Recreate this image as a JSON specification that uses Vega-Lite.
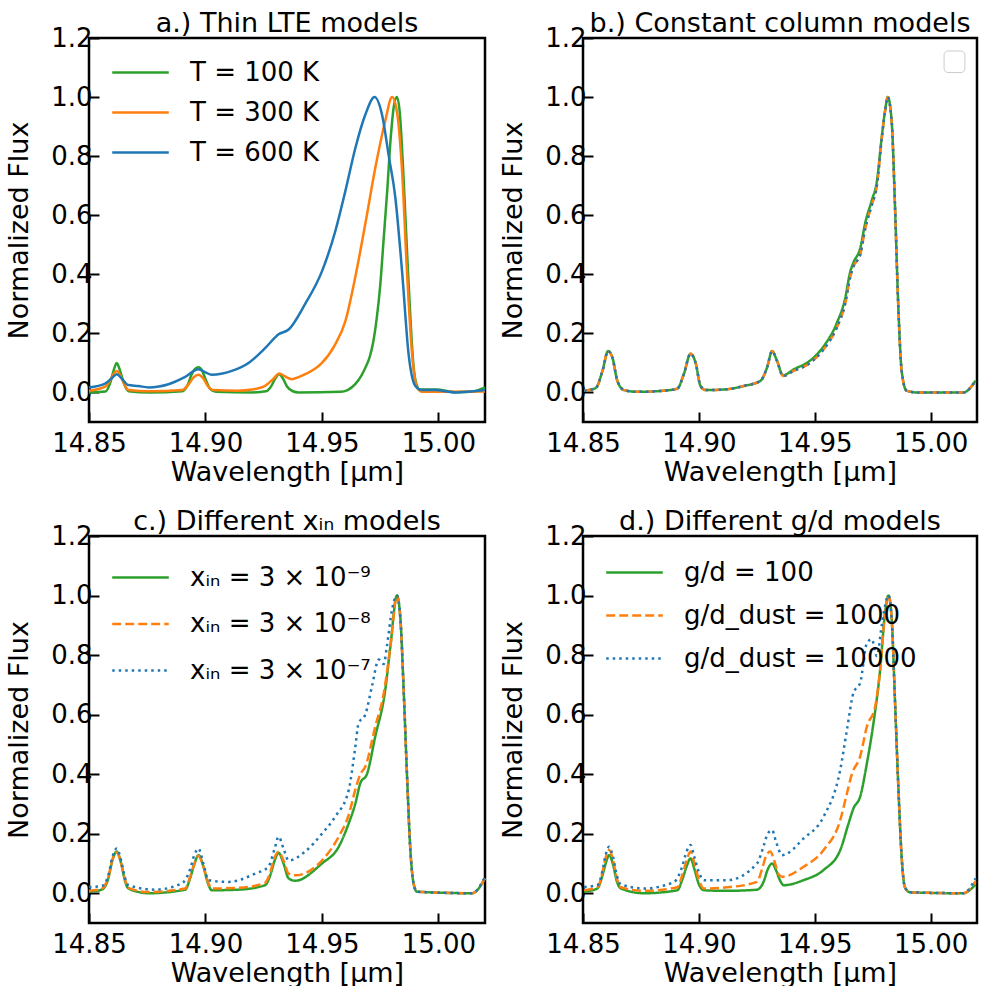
{
  "$schema": "https://vega.github.io/schema/vega-lite/v6.json",
  "background": "white",
  "padding": {"left": 4, "top": 8, "right": 5, "bottom": 0},
  "config": {
    "font": "DejaVu Sans",
    "view": {"stroke": "black", "strokeWidth": 2.5},
    "axis": {"domain": false, "grid": false, "tickSize": -10, "tickWidth": 2, "tickColor": "black", "labelFontSize": 26, "labelColor": "black", "titleFontSize": 27, "titleFontWeight": "normal", "titleColor": "black", "labelFont": "DejaVu Sans", "titleFont": "DejaVu Sans", "labelFlush": false, "labelOverlap": false},
    "axisX": {"labelPadding": 18, "titlePadding": 3},
    "axisY": {"labelPadding": 7, "titlePadding": 17},
    "title": {"fontSize": 27, "fontWeight": "normal", "font": "DejaVu Sans", "color": "black", "offset": -12.5, "baseline": "alphabetic"},
    "legend": {"labelFontSize": 26, "labelFont": "DejaVu Sans", "labelColor": "black", "symbolType": "M-2,0H2", "symbolSize": 800, "symbolStrokeWidth": 2.5, "labelOffset": 34, "padding": 0, "rowPadding": 14, "orient": "none", "labelLimit": 400},
    "line": {"strokeWidth": 2.5, "interpolate": "monotone"}
  },
  "datasets": {
    "a": [
      {"s":"T = 100 K","x":14.8500,"y":0.000},{"s":"T = 100 K","x":14.8570,"y":0.003},{"s":"T = 100 K","x":14.8590,"y":0.030},{"s":"T = 100 K","x":14.8605,"y":0.072},{"s":"T = 100 K","x":14.8619,"y":0.100},{"s":"T = 100 K","x":14.8634,"y":0.072},{"s":"T = 100 K","x":14.8650,"y":0.030},{"s":"T = 100 K","x":14.8670,"y":0.004},{"s":"T = 100 K","x":14.8760,"y":0.000},{"s":"T = 100 K","x":14.8900,"y":0.004},{"s":"T = 100 K","x":14.8925,"y":0.028},{"s":"T = 100 K","x":14.8940,"y":0.060},{"s":"T = 100 K","x":14.8955,"y":0.080},{"s":"T = 100 K","x":14.8970,"y":0.085},{"s":"T = 100 K","x":14.8985,"y":0.075},{"s":"T = 100 K","x":14.9000,"y":0.045},{"s":"T = 100 K","x":14.9020,"y":0.012},{"s":"T = 100 K","x":14.9045,"y":0.002},{"s":"T = 100 K","x":14.9200,"y":0.000},{"s":"T = 100 K","x":14.9260,"y":0.004},{"s":"T = 100 K","x":14.9285,"y":0.025},{"s":"T = 100 K","x":14.9300,"y":0.048},{"s":"T = 100 K","x":14.9317,"y":0.062},{"s":"T = 100 K","x":14.9332,"y":0.048},{"s":"T = 100 K","x":14.9350,"y":0.020},{"s":"T = 100 K","x":14.9375,"y":0.004},{"s":"T = 100 K","x":14.9400,"y":0.000},{"s":"T = 100 K","x":14.9580,"y":0.002},{"s":"T = 100 K","x":14.9610,"y":0.008},{"s":"T = 100 K","x":14.9643,"y":0.028},{"s":"T = 100 K","x":14.9670,"y":0.058},{"s":"T = 100 K","x":14.9690,"y":0.090},{"s":"T = 100 K","x":14.9705,"y":0.120},{"s":"T = 100 K","x":14.9720,"y":0.170},{"s":"T = 100 K","x":14.9735,"y":0.250},{"s":"T = 100 K","x":14.9750,"y":0.360},{"s":"T = 100 K","x":14.9765,"y":0.520},{"s":"T = 100 K","x":14.9780,"y":0.680},{"s":"T = 100 K","x":14.9795,"y":0.860},{"s":"T = 100 K","x":14.9810,"y":0.975},{"s":"T = 100 K","x":14.9822,"y":1.000},{"s":"T = 100 K","x":14.9835,"y":0.940},{"s":"T = 100 K","x":14.9847,"y":0.780},{"s":"T = 100 K","x":14.9858,"y":0.600},{"s":"T = 100 K","x":14.9870,"y":0.400},{"s":"T = 100 K","x":14.9882,"y":0.220},{"s":"T = 100 K","x":14.9893,"y":0.090},{"s":"T = 100 K","x":14.9905,"y":0.030},{"s":"T = 100 K","x":14.9920,"y":0.010},{"s":"T = 100 K","x":14.9990,"y":0.010},{"s":"T = 100 K","x":15.0070,"y":0.001},{"s":"T = 100 K","x":15.0140,"y":0.002},{"s":"T = 100 K","x":15.0200,"y":0.017},
      {"s":"T = 300 K","x":14.8500,"y":0.006},{"s":"T = 300 K","x":14.8570,"y":0.020},{"s":"T = 300 K","x":14.8590,"y":0.040},{"s":"T = 300 K","x":14.8605,"y":0.062},{"s":"T = 300 K","x":14.8619,"y":0.073},{"s":"T = 300 K","x":14.8634,"y":0.058},{"s":"T = 300 K","x":14.8650,"y":0.030},{"s":"T = 300 K","x":14.8670,"y":0.008},{"s":"T = 300 K","x":14.8760,"y":0.004},{"s":"T = 300 K","x":14.8900,"y":0.008},{"s":"T = 300 K","x":14.8930,"y":0.030},{"s":"T = 300 K","x":14.8950,"y":0.052},{"s":"T = 300 K","x":14.8970,"y":0.060},{"s":"T = 300 K","x":14.8990,"y":0.048},{"s":"T = 300 K","x":14.9010,"y":0.022},{"s":"T = 300 K","x":14.9034,"y":0.008},{"s":"T = 300 K","x":14.9140,"y":0.006},{"s":"T = 300 K","x":14.9200,"y":0.010},{"s":"T = 300 K","x":14.9256,"y":0.022},{"s":"T = 300 K","x":14.9290,"y":0.045},{"s":"T = 300 K","x":14.9317,"y":0.064},{"s":"T = 300 K","x":14.9340,"y":0.055},{"s":"T = 300 K","x":14.9371,"y":0.045},{"s":"T = 300 K","x":14.9400,"y":0.052},{"s":"T = 300 K","x":14.9428,"y":0.062},{"s":"T = 300 K","x":14.9470,"y":0.080},{"s":"T = 300 K","x":14.9500,"y":0.100},{"s":"T = 300 K","x":14.9557,"y":0.163},{"s":"T = 300 K","x":14.9600,"y":0.240},{"s":"T = 300 K","x":14.9643,"y":0.390},{"s":"T = 300 K","x":14.9686,"y":0.570},{"s":"T = 300 K","x":14.9729,"y":0.760},{"s":"T = 300 K","x":14.9772,"y":0.920},{"s":"T = 300 K","x":14.9801,"y":1.000},{"s":"T = 300 K","x":14.9822,"y":0.950},{"s":"T = 300 K","x":14.9844,"y":0.750},{"s":"T = 300 K","x":14.9865,"y":0.410},{"s":"T = 300 K","x":14.9887,"y":0.130},{"s":"T = 300 K","x":14.9908,"y":0.017},{"s":"T = 300 K","x":14.9930,"y":0.002},{"s":"T = 300 K","x":15.0200,"y":0.003},
      {"s":"T = 600 K","x":14.8500,"y":0.017},{"s":"T = 600 K","x":14.8569,"y":0.030},{"s":"T = 600 K","x":14.8600,"y":0.050},{"s":"T = 600 K","x":14.8619,"y":0.062},{"s":"T = 600 K","x":14.8640,"y":0.048},{"s":"T = 600 K","x":14.8669,"y":0.025},{"s":"T = 600 K","x":14.8712,"y":0.022},{"s":"T = 600 K","x":14.8755,"y":0.017},{"s":"T = 600 K","x":14.8800,"y":0.020},{"s":"T = 600 K","x":14.8841,"y":0.028},{"s":"T = 600 K","x":14.8913,"y":0.053},{"s":"T = 600 K","x":14.8970,"y":0.079},{"s":"T = 600 K","x":14.9000,"y":0.068},{"s":"T = 600 K","x":14.9027,"y":0.060},{"s":"T = 600 K","x":14.9113,"y":0.073},{"s":"T = 600 K","x":14.9185,"y":0.100},{"s":"T = 600 K","x":14.9256,"y":0.150},{"s":"T = 600 K","x":14.9314,"y":0.197},{"s":"T = 600 K","x":14.9357,"y":0.213},{"s":"T = 600 K","x":14.9428,"y":0.300},{"s":"T = 600 K","x":14.9500,"y":0.410},{"s":"T = 600 K","x":14.9557,"y":0.545},{"s":"T = 600 K","x":14.9600,"y":0.680},{"s":"T = 600 K","x":14.9643,"y":0.826},{"s":"T = 600 K","x":14.9686,"y":0.940},{"s":"T = 600 K","x":14.9726,"y":1.000},{"s":"T = 600 K","x":14.9758,"y":0.940},{"s":"T = 600 K","x":14.9787,"y":0.800},{"s":"T = 600 K","x":14.9815,"y":0.660},{"s":"T = 600 K","x":14.9844,"y":0.410},{"s":"T = 600 K","x":14.9872,"y":0.130},{"s":"T = 600 K","x":14.9901,"y":0.022},{"s":"T = 600 K","x":14.9930,"y":0.008},{"s":"T = 600 K","x":14.9987,"y":0.008},{"s":"T = 600 K","x":15.0073,"y":0.000},{"s":"T = 600 K","x":15.0200,"y":0.008}
    ],
    "b": [
      {"s":"g","x":14.8505,"y":0.006},{"s":"g","x":14.8555,"y":0.015},{"s":"g","x":14.8584,"y":0.073},{"s":"g","x":14.8608,"y":0.140},{"s":"g","x":14.8627,"y":0.118},{"s":"g","x":14.8648,"y":0.040},{"s":"g","x":14.8677,"y":0.008},{"s":"g","x":14.8735,"y":0.002},{"s":"g","x":14.8849,"y":0.006},{"s":"g","x":14.8907,"y":0.013},{"s":"g","x":14.8935,"y":0.062},{"s":"g","x":14.8964,"y":0.131},{"s":"g","x":14.8986,"y":0.100},{"s":"g","x":14.9007,"y":0.022},{"s":"g","x":14.9029,"y":0.008},{"s":"g","x":14.9122,"y":0.011},{"s":"g","x":14.9194,"y":0.022},{"s":"g","x":14.9265,"y":0.039},{"s":"g","x":14.9294,"y":0.084},{"s":"g","x":14.9316,"y":0.140},{"s":"g","x":14.9337,"y":0.107},{"s":"g","x":14.9363,"y":0.058},{"s":"g","x":14.9409,"y":0.078},{"s":"g","x":14.9480,"y":0.108},{"s":"g","x":14.9538,"y":0.156},{"s":"g","x":14.9595,"y":0.235},{"s":"g","x":14.9631,"y":0.318},{"s":"g","x":14.9653,"y":0.408},{"s":"g","x":14.9667,"y":0.440},{"s":"g","x":14.9696,"y":0.488},{"s":"g","x":14.9718,"y":0.575},{"s":"g","x":14.9746,"y":0.650},{"s":"g","x":14.9768,"y":0.715},{"s":"g","x":14.9789,"y":0.865},{"s":"g","x":14.9803,"y":0.952},{"s":"g","x":14.9815,"y":1.000},{"s":"g","x":14.9832,"y":0.916},{"s":"g","x":14.9846,"y":0.635},{"s":"g","x":14.9860,"y":0.300},{"s":"g","x":14.9875,"y":0.073},{"s":"g","x":14.9896,"y":0.006},{"s":"g","x":14.9940,"y":0.000},{"s":"g","x":15.0141,"y":0.000},{"s":"g","x":15.0194,"y":0.040},
      {"s":"o","x":14.8505,"y":0.006},{"s":"o","x":14.8555,"y":0.015},{"s":"o","x":14.8584,"y":0.073},{"s":"o","x":14.8608,"y":0.140},{"s":"o","x":14.8627,"y":0.118},{"s":"o","x":14.8648,"y":0.040},{"s":"o","x":14.8677,"y":0.008},{"s":"o","x":14.8735,"y":0.002},{"s":"o","x":14.8849,"y":0.006},{"s":"o","x":14.8907,"y":0.013},{"s":"o","x":14.8935,"y":0.062},{"s":"o","x":14.8964,"y":0.131},{"s":"o","x":14.8986,"y":0.100},{"s":"o","x":14.9007,"y":0.022},{"s":"o","x":14.9029,"y":0.008},{"s":"o","x":14.9122,"y":0.011},{"s":"o","x":14.9194,"y":0.022},{"s":"o","x":14.9265,"y":0.039},{"s":"o","x":14.9294,"y":0.084},{"s":"o","x":14.9316,"y":0.140},{"s":"o","x":14.9337,"y":0.107},{"s":"o","x":14.9363,"y":0.056},{"s":"o","x":14.9409,"y":0.073},{"s":"o","x":14.9480,"y":0.100},{"s":"o","x":14.9538,"y":0.146},{"s":"o","x":14.9595,"y":0.220},{"s":"o","x":14.9631,"y":0.300},{"s":"o","x":14.9653,"y":0.390},{"s":"o","x":14.9667,"y":0.427},{"s":"o","x":14.9696,"y":0.466},{"s":"o","x":14.9718,"y":0.556},{"s":"o","x":14.9746,"y":0.635},{"s":"o","x":14.9768,"y":0.700},{"s":"o","x":14.9789,"y":0.860},{"s":"o","x":14.9803,"y":0.950},{"s":"o","x":14.9815,"y":1.000},{"s":"o","x":14.9832,"y":0.916},{"s":"o","x":14.9846,"y":0.635},{"s":"o","x":14.9860,"y":0.300},{"s":"o","x":14.9875,"y":0.073},{"s":"o","x":14.9896,"y":0.006},{"s":"o","x":14.9940,"y":0.000},{"s":"o","x":15.0141,"y":0.000},{"s":"o","x":15.0194,"y":0.040},
      {"s":"b","x":14.8505,"y":0.006},{"s":"b","x":14.8555,"y":0.015},{"s":"b","x":14.8584,"y":0.073},{"s":"b","x":14.8608,"y":0.140},{"s":"b","x":14.8627,"y":0.118},{"s":"b","x":14.8648,"y":0.040},{"s":"b","x":14.8677,"y":0.008},{"s":"b","x":14.8735,"y":0.002},{"s":"b","x":14.8849,"y":0.006},{"s":"b","x":14.8907,"y":0.013},{"s":"b","x":14.8935,"y":0.062},{"s":"b","x":14.8964,"y":0.131},{"s":"b","x":14.8986,"y":0.100},{"s":"b","x":14.9007,"y":0.022},{"s":"b","x":14.9029,"y":0.008},{"s":"b","x":14.9122,"y":0.011},{"s":"b","x":14.9194,"y":0.022},{"s":"b","x":14.9265,"y":0.039},{"s":"b","x":14.9294,"y":0.084},{"s":"b","x":14.9316,"y":0.140},{"s":"b","x":14.9337,"y":0.107},{"s":"b","x":14.9363,"y":0.056},{"s":"b","x":14.9409,"y":0.073},{"s":"b","x":14.9480,"y":0.100},{"s":"b","x":14.9538,"y":0.146},{"s":"b","x":14.9595,"y":0.220},{"s":"b","x":14.9631,"y":0.300},{"s":"b","x":14.9653,"y":0.390},{"s":"b","x":14.9667,"y":0.427},{"s":"b","x":14.9696,"y":0.466},{"s":"b","x":14.9718,"y":0.556},{"s":"b","x":14.9746,"y":0.635},{"s":"b","x":14.9768,"y":0.700},{"s":"b","x":14.9789,"y":0.860},{"s":"b","x":14.9803,"y":0.950},{"s":"b","x":14.9815,"y":1.000},{"s":"b","x":14.9832,"y":0.916},{"s":"b","x":14.9846,"y":0.635},{"s":"b","x":14.9860,"y":0.300},{"s":"b","x":14.9875,"y":0.073},{"s":"b","x":14.9896,"y":0.006},{"s":"b","x":14.9940,"y":0.000},{"s":"b","x":15.0141,"y":0.000},{"s":"b","x":15.0194,"y":0.040}
    ],
    "c": [
      {"s":"xᵢₙ = 3 × 10⁻⁹","x":14.8500,"y":0.005},{"s":"xᵢₙ = 3 × 10⁻⁹","x":14.8554,"y":0.012},{"s":"xᵢₙ = 3 × 10⁻⁹","x":14.8583,"y":0.050},{"s":"xᵢₙ = 3 × 10⁻⁹","x":14.8600,"y":0.110},{"s":"xᵢₙ = 3 × 10⁻⁹","x":14.8619,"y":0.140},{"s":"xᵢₙ = 3 × 10⁻⁹","x":14.8638,"y":0.100},{"s":"xᵢₙ = 3 × 10⁻⁹","x":14.8655,"y":0.040},{"s":"xᵢₙ = 3 × 10⁻⁹","x":14.8669,"y":0.016},{"s":"xᵢₙ = 3 × 10⁻⁹","x":14.8755,"y":0.000},{"s":"xᵢₙ = 3 × 10⁻⁹","x":14.8913,"y":0.012},{"s":"xᵢₙ = 3 × 10⁻⁹","x":14.8934,"y":0.050},{"s":"xᵢₙ = 3 × 10⁻⁹","x":14.8953,"y":0.100},{"s":"xᵢₙ = 3 × 10⁻⁹","x":14.8970,"y":0.128},{"s":"xᵢₙ = 3 × 10⁻⁹","x":14.8991,"y":0.090},{"s":"xᵢₙ = 3 × 10⁻⁹","x":14.9010,"y":0.035},{"s":"xᵢₙ = 3 × 10⁻⁹","x":14.9027,"y":0.010},{"s":"xᵢₙ = 3 × 10⁻⁹","x":14.9142,"y":0.012},{"s":"xᵢₙ = 3 × 10⁻⁹","x":14.9256,"y":0.027},{"s":"xᵢₙ = 3 × 10⁻⁹","x":14.9278,"y":0.060},{"s":"xᵢₙ = 3 × 10⁻⁹","x":14.9297,"y":0.110},{"s":"xᵢₙ = 3 × 10⁻⁹","x":14.9314,"y":0.136},{"s":"xᵢₙ = 3 × 10⁻⁹","x":14.9335,"y":0.100},{"s":"xᵢₙ = 3 × 10⁻⁹","x":14.9357,"y":0.050},{"s":"xᵢₙ = 3 × 10⁻⁹","x":14.9385,"y":0.042},{"s":"xᵢₙ = 3 × 10⁻⁹","x":14.9500,"y":0.100},{"s":"xᵢₙ = 3 × 10⁻⁹","x":14.9572,"y":0.156},{"s":"xᵢₙ = 3 × 10⁻⁹","x":14.9615,"y":0.235},{"s":"xᵢₙ = 3 × 10⁻⁹","x":14.9643,"y":0.300},{"s":"xᵢₙ = 3 × 10⁻⁹","x":14.9665,"y":0.370},{"s":"xᵢₙ = 3 × 10⁻⁹","x":14.9693,"y":0.400},{"s":"xᵢₙ = 3 × 10⁻⁹","x":14.9729,"y":0.527},{"s":"xᵢₙ = 3 × 10⁻⁹","x":14.9772,"y":0.684},{"s":"xᵢₙ = 3 × 10⁻⁹","x":14.9794,"y":0.830},{"s":"xᵢₙ = 3 × 10⁻⁹","x":14.9822,"y":1.000},{"s":"xᵢₙ = 3 × 10⁻⁹","x":14.9837,"y":0.920},{"s":"xᵢₙ = 3 × 10⁻⁹","x":14.9851,"y":0.680},{"s":"xᵢₙ = 3 × 10⁻⁹","x":14.9865,"y":0.400},{"s":"xᵢₙ = 3 × 10⁻⁹","x":14.9880,"y":0.140},{"s":"xᵢₙ = 3 × 10⁻⁹","x":14.9894,"y":0.030},{"s":"xᵢₙ = 3 × 10⁻⁹","x":14.9908,"y":0.005},{"s":"xᵢₙ = 3 × 10⁻⁹","x":15.0145,"y":0.000},{"s":"xᵢₙ = 3 × 10⁻⁹","x":15.0200,"y":0.050},
      {"s":"xᵢₙ = 3 × 10⁻⁸","x":14.8500,"y":0.008},{"s":"xᵢₙ = 3 × 10⁻⁸","x":14.8554,"y":0.015},{"s":"xᵢₙ = 3 × 10⁻⁸","x":14.8583,"y":0.055},{"s":"xᵢₙ = 3 × 10⁻⁸","x":14.8600,"y":0.110},{"s":"xᵢₙ = 3 × 10⁻⁸","x":14.8619,"y":0.138},{"s":"xᵢₙ = 3 × 10⁻⁸","x":14.8638,"y":0.100},{"s":"xᵢₙ = 3 × 10⁻⁸","x":14.8655,"y":0.045},{"s":"xᵢₙ = 3 × 10⁻⁸","x":14.8669,"y":0.018},{"s":"xᵢₙ = 3 × 10⁻⁸","x":14.8755,"y":0.004},{"s":"xᵢₙ = 3 × 10⁻⁸","x":14.8913,"y":0.016},{"s":"xᵢₙ = 3 × 10⁻⁸","x":14.8934,"y":0.055},{"s":"xᵢₙ = 3 × 10⁻⁸","x":14.8953,"y":0.100},{"s":"xᵢₙ = 3 × 10⁻⁸","x":14.8970,"y":0.125},{"s":"xᵢₙ = 3 × 10⁻⁸","x":14.8991,"y":0.090},{"s":"xᵢₙ = 3 × 10⁻⁸","x":14.9010,"y":0.040},{"s":"xᵢₙ = 3 × 10⁻⁸","x":14.9027,"y":0.016},{"s":"xᵢₙ = 3 × 10⁻⁸","x":14.9142,"y":0.018},{"s":"xᵢₙ = 3 × 10⁻⁸","x":14.9256,"y":0.035},{"s":"xᵢₙ = 3 × 10⁻⁸","x":14.9278,"y":0.070},{"s":"xᵢₙ = 3 × 10⁻⁸","x":14.9297,"y":0.120},{"s":"xᵢₙ = 3 × 10⁻⁸","x":14.9314,"y":0.139},{"s":"xᵢₙ = 3 × 10⁻⁸","x":14.9335,"y":0.110},{"s":"xᵢₙ = 3 × 10⁻⁸","x":14.9357,"y":0.066},{"s":"xᵢₙ = 3 × 10⁻⁸","x":14.9385,"y":0.060},{"s":"xᵢₙ = 3 × 10⁻⁸","x":14.9500,"y":0.110},{"s":"xᵢₙ = 3 × 10⁻⁸","x":14.9572,"y":0.190},{"s":"xᵢₙ = 3 × 10⁻⁸","x":14.9615,"y":0.263},{"s":"xᵢₙ = 3 × 10⁻⁸","x":14.9643,"y":0.347},{"s":"xᵢₙ = 3 × 10⁻⁸","x":14.9665,"y":0.400},{"s":"xᵢₙ = 3 × 10⁻⁸","x":14.9686,"y":0.425},{"s":"xᵢₙ = 3 × 10⁻⁸","x":14.9729,"y":0.560},{"s":"xᵢₙ = 3 × 10⁻⁸","x":14.9765,"y":0.670},{"s":"xᵢₙ = 3 × 10⁻⁸","x":14.9794,"y":0.830},{"s":"xᵢₙ = 3 × 10⁻⁸","x":14.9822,"y":1.000},{"s":"xᵢₙ = 3 × 10⁻⁸","x":14.9837,"y":0.920},{"s":"xᵢₙ = 3 × 10⁻⁸","x":14.9851,"y":0.680},{"s":"xᵢₙ = 3 × 10⁻⁸","x":14.9865,"y":0.400},{"s":"xᵢₙ = 3 × 10⁻⁸","x":14.9880,"y":0.140},{"s":"xᵢₙ = 3 × 10⁻⁸","x":14.9894,"y":0.030},{"s":"xᵢₙ = 3 × 10⁻⁸","x":14.9908,"y":0.005},{"s":"xᵢₙ = 3 × 10⁻⁸","x":15.0145,"y":0.000},{"s":"xᵢₙ = 3 × 10⁻⁸","x":15.0200,"y":0.050},
      {"s":"xᵢₙ = 3 × 10⁻⁷","x":14.8500,"y":0.021},{"s":"xᵢₙ = 3 × 10⁻⁷","x":14.8554,"y":0.024},{"s":"xᵢₙ = 3 × 10⁻⁷","x":14.8583,"y":0.060},{"s":"xᵢₙ = 3 × 10⁻⁷","x":14.8600,"y":0.120},{"s":"xᵢₙ = 3 × 10⁻⁷","x":14.8619,"y":0.150},{"s":"xᵢₙ = 3 × 10⁻⁷","x":14.8638,"y":0.110},{"s":"xᵢₙ = 3 × 10⁻⁷","x":14.8655,"y":0.050},{"s":"xᵢₙ = 3 × 10⁻⁷","x":14.8669,"y":0.027},{"s":"xᵢₙ = 3 × 10⁻⁷","x":14.8784,"y":0.012},{"s":"xᵢₙ = 3 × 10⁻⁷","x":14.8898,"y":0.033},{"s":"xᵢₙ = 3 × 10⁻⁷","x":14.8934,"y":0.080},{"s":"xᵢₙ = 3 × 10⁻⁷","x":14.8953,"y":0.130},{"s":"xᵢₙ = 3 × 10⁻⁷","x":14.8970,"y":0.150},{"s":"xᵢₙ = 3 × 10⁻⁷","x":14.8991,"y":0.100},{"s":"xᵢₙ = 3 × 10⁻⁷","x":14.9013,"y":0.044},{"s":"xᵢₙ = 3 × 10⁻⁷","x":14.9099,"y":0.038},{"s":"xᵢₙ = 3 × 10⁻⁷","x":14.9213,"y":0.066},{"s":"xᵢₙ = 3 × 10⁻⁷","x":14.9270,"y":0.089},{"s":"xᵢₙ = 3 × 10⁻⁷","x":14.9297,"y":0.150},{"s":"xᵢₙ = 3 × 10⁻⁷","x":14.9314,"y":0.190},{"s":"xᵢₙ = 3 × 10⁻⁷","x":14.9335,"y":0.150},{"s":"xᵢₙ = 3 × 10⁻⁷","x":14.9357,"y":0.110},{"s":"xᵢₙ = 3 × 10⁻⁷","x":14.9428,"y":0.140},{"s":"xᵢₙ = 3 × 10⁻⁷","x":14.9500,"y":0.200},{"s":"xᵢₙ = 3 × 10⁻⁷","x":14.9557,"y":0.257},{"s":"xᵢₙ = 3 × 10⁻⁷","x":14.9615,"y":0.347},{"s":"xᵢₙ = 3 × 10⁻⁷","x":14.9643,"y":0.490},{"s":"xᵢₙ = 3 × 10⁻⁷","x":14.9657,"y":0.570},{"s":"xᵢₙ = 3 × 10⁻⁷","x":14.9686,"y":0.600},{"s":"xᵢₙ = 3 × 10⁻⁷","x":14.9715,"y":0.696},{"s":"xᵢₙ = 3 × 10⁻⁷","x":14.9744,"y":0.785},{"s":"xᵢₙ = 3 × 10⁻⁷","x":14.9765,"y":0.770},{"s":"xᵢₙ = 3 × 10⁻⁷","x":14.9779,"y":0.830},{"s":"xᵢₙ = 3 × 10⁻⁷","x":14.9801,"y":0.953},{"s":"xᵢₙ = 3 × 10⁻⁷","x":14.9822,"y":1.000},{"s":"xᵢₙ = 3 × 10⁻⁷","x":14.9837,"y":0.920},{"s":"xᵢₙ = 3 × 10⁻⁷","x":14.9851,"y":0.680},{"s":"xᵢₙ = 3 × 10⁻⁷","x":14.9865,"y":0.400},{"s":"xᵢₙ = 3 × 10⁻⁷","x":14.9880,"y":0.140},{"s":"xᵢₙ = 3 × 10⁻⁷","x":14.9894,"y":0.030},{"s":"xᵢₙ = 3 × 10⁻⁷","x":14.9908,"y":0.005},{"s":"xᵢₙ = 3 × 10⁻⁷","x":15.0145,"y":0.000},{"s":"xᵢₙ = 3 × 10⁻⁷","x":15.0200,"y":0.055}
    ],
    "d": [
      {"s":"g/d = 100","x":14.8505,"y":0.005},{"s":"g/d = 100","x":14.8562,"y":0.016},{"s":"g/d = 100","x":14.8584,"y":0.060},{"s":"g/d = 100","x":14.8598,"y":0.100},{"s":"g/d = 100","x":14.8613,"y":0.128},{"s":"g/d = 100","x":14.8630,"y":0.095},{"s":"g/d = 100","x":14.8646,"y":0.040},{"s":"g/d = 100","x":14.8663,"y":0.016},{"s":"g/d = 100","x":14.8763,"y":0.000},{"s":"g/d = 100","x":14.8907,"y":0.010},{"s":"g/d = 100","x":14.8928,"y":0.045},{"s":"g/d = 100","x":14.8947,"y":0.090},{"s":"g/d = 100","x":14.8964,"y":0.117},{"s":"g/d = 100","x":14.8981,"y":0.080},{"s":"g/d = 100","x":14.9000,"y":0.030},{"s":"g/d = 100","x":14.9022,"y":0.010},{"s":"g/d = 100","x":14.9122,"y":0.008},{"s":"g/d = 100","x":14.9251,"y":0.012},{"s":"g/d = 100","x":14.9280,"y":0.040},{"s":"g/d = 100","x":14.9297,"y":0.080},{"s":"g/d = 100","x":14.9316,"y":0.100},{"s":"g/d = 100","x":14.9334,"y":0.075},{"s":"g/d = 100","x":14.9352,"y":0.040},{"s":"g/d = 100","x":14.9366,"y":0.027},{"s":"g/d = 100","x":14.9452,"y":0.044},{"s":"g/d = 100","x":14.9538,"y":0.078},{"s":"g/d = 100","x":14.9610,"y":0.145},{"s":"g/d = 100","x":14.9646,"y":0.235},{"s":"g/d = 100","x":14.9667,"y":0.285},{"s":"g/d = 100","x":14.9696,"y":0.325},{"s":"g/d = 100","x":14.9725,"y":0.437},{"s":"g/d = 100","x":14.9753,"y":0.570},{"s":"g/d = 100","x":14.9782,"y":0.750},{"s":"g/d = 100","x":14.9803,"y":0.940},{"s":"g/d = 100","x":14.9818,"y":1.000},{"s":"g/d = 100","x":14.9832,"y":0.920},{"s":"g/d = 100","x":14.9846,"y":0.650},{"s":"g/d = 100","x":14.9861,"y":0.350},{"s":"g/d = 100","x":14.9875,"y":0.120},{"s":"g/d = 100","x":14.9889,"y":0.020},{"s":"g/d = 100","x":14.9911,"y":0.003},{"s":"g/d = 100","x":15.0141,"y":0.000},{"s":"g/d = 100","x":15.0194,"y":0.030},
      {"s":"g/d_dust = 1000","x":14.8505,"y":0.010},{"s":"g/d_dust = 1000","x":14.8562,"y":0.020},{"s":"g/d_dust = 1000","x":14.8584,"y":0.070},{"s":"g/d_dust = 1000","x":14.8598,"y":0.120},{"s":"g/d_dust = 1000","x":14.8613,"y":0.145},{"s":"g/d_dust = 1000","x":14.8630,"y":0.110},{"s":"g/d_dust = 1000","x":14.8646,"y":0.050},{"s":"g/d_dust = 1000","x":14.8663,"y":0.020},{"s":"g/d_dust = 1000","x":14.8763,"y":0.008},{"s":"g/d_dust = 1000","x":14.8907,"y":0.020},{"s":"g/d_dust = 1000","x":14.8928,"y":0.060},{"s":"g/d_dust = 1000","x":14.8947,"y":0.110},{"s":"g/d_dust = 1000","x":14.8964,"y":0.140},{"s":"g/d_dust = 1000","x":14.8981,"y":0.100},{"s":"g/d_dust = 1000","x":14.9000,"y":0.045},{"s":"g/d_dust = 1000","x":14.9022,"y":0.016},{"s":"g/d_dust = 1000","x":14.9122,"y":0.020},{"s":"g/d_dust = 1000","x":14.9251,"y":0.038},{"s":"g/d_dust = 1000","x":14.9272,"y":0.080},{"s":"g/d_dust = 1000","x":14.9290,"y":0.125},{"s":"g/d_dust = 1000","x":14.9308,"y":0.140},{"s":"g/d_dust = 1000","x":14.9325,"y":0.110},{"s":"g/d_dust = 1000","x":14.9343,"y":0.065},{"s":"g/d_dust = 1000","x":14.9359,"y":0.055},{"s":"g/d_dust = 1000","x":14.9452,"y":0.089},{"s":"g/d_dust = 1000","x":14.9538,"y":0.145},{"s":"g/d_dust = 1000","x":14.9610,"y":0.246},{"s":"g/d_dust = 1000","x":14.9639,"y":0.336},{"s":"g/d_dust = 1000","x":14.9660,"y":0.400},{"s":"g/d_dust = 1000","x":14.9696,"y":0.460},{"s":"g/d_dust = 1000","x":14.9725,"y":0.560},{"s":"g/d_dust = 1000","x":14.9761,"y":0.628},{"s":"g/d_dust = 1000","x":14.9782,"y":0.750},{"s":"g/d_dust = 1000","x":14.9803,"y":0.940},{"s":"g/d_dust = 1000","x":14.9818,"y":1.000},{"s":"g/d_dust = 1000","x":14.9832,"y":0.920},{"s":"g/d_dust = 1000","x":14.9846,"y":0.650},{"s":"g/d_dust = 1000","x":14.9861,"y":0.350},{"s":"g/d_dust = 1000","x":14.9875,"y":0.120},{"s":"g/d_dust = 1000","x":14.9889,"y":0.020},{"s":"g/d_dust = 1000","x":14.9911,"y":0.003},{"s":"g/d_dust = 1000","x":15.0141,"y":0.000},{"s":"g/d_dust = 1000","x":15.0194,"y":0.040},
      {"s":"g/d_dust = 10000","x":14.8505,"y":0.021},{"s":"g/d_dust = 10000","x":14.8562,"y":0.027},{"s":"g/d_dust = 10000","x":14.8584,"y":0.075},{"s":"g/d_dust = 10000","x":14.8598,"y":0.130},{"s":"g/d_dust = 10000","x":14.8613,"y":0.156},{"s":"g/d_dust = 10000","x":14.8630,"y":0.120},{"s":"g/d_dust = 10000","x":14.8646,"y":0.060},{"s":"g/d_dust = 10000","x":14.8663,"y":0.030},{"s":"g/d_dust = 10000","x":14.8763,"y":0.016},{"s":"g/d_dust = 10000","x":14.8893,"y":0.038},{"s":"g/d_dust = 10000","x":14.8928,"y":0.090},{"s":"g/d_dust = 10000","x":14.8947,"y":0.140},{"s":"g/d_dust = 10000","x":14.8964,"y":0.162},{"s":"g/d_dust = 10000","x":14.8981,"y":0.120},{"s":"g/d_dust = 10000","x":14.9000,"y":0.070},{"s":"g/d_dust = 10000","x":14.9022,"y":0.044},{"s":"g/d_dust = 10000","x":14.9122,"y":0.044},{"s":"g/d_dust = 10000","x":14.9251,"y":0.100},{"s":"g/d_dust = 10000","x":14.9280,"y":0.160},{"s":"g/d_dust = 10000","x":14.9297,"y":0.200},{"s":"g/d_dust = 10000","x":14.9316,"y":0.212},{"s":"g/d_dust = 10000","x":14.9334,"y":0.170},{"s":"g/d_dust = 10000","x":14.9359,"y":0.128},{"s":"g/d_dust = 10000","x":14.9452,"y":0.184},{"s":"g/d_dust = 10000","x":14.9538,"y":0.257},{"s":"g/d_dust = 10000","x":14.9610,"y":0.415},{"s":"g/d_dust = 10000","x":14.9639,"y":0.550},{"s":"g/d_dust = 10000","x":14.9667,"y":0.673},{"s":"g/d_dust = 10000","x":14.9696,"y":0.707},{"s":"g/d_dust = 10000","x":14.9725,"y":0.840},{"s":"g/d_dust = 10000","x":14.9746,"y":0.853},{"s":"g/d_dust = 10000","x":14.9768,"y":0.797},{"s":"g/d_dust = 10000","x":14.9789,"y":0.900},{"s":"g/d_dust = 10000","x":14.9803,"y":0.964},{"s":"g/d_dust = 10000","x":14.9818,"y":1.000},{"s":"g/d_dust = 10000","x":14.9832,"y":0.920},{"s":"g/d_dust = 10000","x":14.9846,"y":0.650},{"s":"g/d_dust = 10000","x":14.9861,"y":0.350},{"s":"g/d_dust = 10000","x":14.9875,"y":0.120},{"s":"g/d_dust = 10000","x":14.9889,"y":0.020},{"s":"g/d_dust = 10000","x":14.9911,"y":0.003},{"s":"g/d_dust = 10000","x":15.0141,"y":0.000},{"s":"g/d_dust = 10000","x":15.0194,"y":0.050}
    ]
  },
  "resolve": {"scale": {"color": "independent", "strokeDash": "independent"}, "legend": {"color": "independent", "strokeDash": "independent"}},
  "spacing": 19,
  "vconcat": [
    {
      "spacing": 6,
      "resolve": {"scale": {"color": "independent", "strokeDash": "independent"}, "legend": {"color": "independent", "strokeDash": "independent"}},
      "hconcat": [
        {
          "title": "a.) Thin LTE models",
          "width": 396, "height": 384,
          "data": {"name": "a"},
          "mark": {"type": "line"},
          "encoding": {
            "x": {"field": "x", "type": "quantitative", "title": "Wavelength [μm]", "scale": {"domain": [14.85, 15.02], "nice": false, "zero": false}, "axis": {"values": [14.85, 14.9, 14.95, 15.0], "format": ".2f"}},
            "y": {"field": "y", "type": "quantitative", "title": "Normalized Flux", "scale": {"domain": [-0.1, 1.2], "nice": false, "zero": false}, "axis": {"values": [0, 0.2, 0.4, 0.6, 0.8, 1.0, 1.2], "format": ".1f"}},
            "color": {"field": "s", "type": "nominal", "scale": {"domain": ["T = 100 K", "T = 300 K", "T = 600 K"], "range": ["#2ca02c", "#ff7f0e", "#1f77b4"]}, "legend": {"title": null, "legendX": 36, "legendY": 19, "rowPadding": 11}}
          }
        },
        {
          "title": "b.) Constant column models",
          "width": 394, "height": 384,
          "layer": [
            {
              "data": {"name": "b"},
              "mark": {"type": "line"},
              "encoding": {
                "x": {"field": "x", "type": "quantitative", "title": "Wavelength [μm]", "scale": {"domain": [14.85, 15.02], "nice": false, "zero": false}, "axis": {"values": [14.85, 14.9, 14.95, 15.0], "format": ".2f"}},
                "y": {"field": "y", "type": "quantitative", "title": "Normalized Flux", "scale": {"domain": [-0.1, 1.2], "nice": false, "zero": false}, "axis": {"values": [0, 0.2, 0.4, 0.6, 0.8, 1.0, 1.2], "format": ".1f"}},
                "color": {"field": "s", "type": "nominal", "scale": {"domain": ["g", "o", "b"], "range": ["#2ca02c", "#ff7f0e", "#1f77b4"]}, "legend": null},
                "strokeDash": {"field": "s", "type": "nominal", "scale": {"domain": ["g", "o", "b"], "range": [[1, 0], [9, 4], [2.5, 4]]}, "legend": null}
              }
            },
            {
              "data": {"values": [{}]},
              "mark": {"type": "rect", "fill": "white", "stroke": "#cccccc", "strokeWidth": 1, "cornerRadius": 4},
              "encoding": {
                "x": {"datum": 15.0058, "type": "quantitative"},
                "x2": {"datum": 15.0148},
                "y": {"datum": 1.156, "type": "quantitative"},
                "y2": {"datum": 1.083}
              }
            }
          ]
        }
      ]
    },
    {
      "spacing": 6,
      "resolve": {"scale": {"color": "independent", "strokeDash": "independent"}, "legend": {"color": "independent", "strokeDash": "independent"}},
      "hconcat": [
        {
          "title": "c.) Different xᵢₙ models",
          "width": 396, "height": 387,
          "data": {"name": "c"},
          "mark": {"type": "line"},
          "encoding": {
            "x": {"field": "x", "type": "quantitative", "title": "Wavelength [μm]", "scale": {"domain": [14.85, 15.02], "nice": false, "zero": false}, "axis": {"values": [14.85, 14.9, 14.95, 15.0], "format": ".2f"}},
            "y": {"field": "y", "type": "quantitative", "title": "Normalized Flux", "scale": {"domain": [-0.1, 1.2], "nice": false, "zero": false}, "axis": {"values": [0, 0.2, 0.4, 0.6, 0.8, 1.0, 1.2], "format": ".1f"}},
            "color": {"field": "s", "type": "nominal", "scale": {"domain": ["xᵢₙ = 3 × 10⁻⁹", "xᵢₙ = 3 × 10⁻⁸", "xᵢₙ = 3 × 10⁻⁷"], "range": ["#2ca02c", "#ff7f0e", "#1f77b4"]}, "legend": {"title": null, "legendX": 36, "legendY": 26, "rowPadding": 17.5}},
            "strokeDash": {"field": "s", "type": "nominal", "scale": {"domain": ["xᵢₙ = 3 × 10⁻⁹", "xᵢₙ = 3 × 10⁻⁸", "xᵢₙ = 3 × 10⁻⁷"], "range": [[1, 0], [9, 4], [2.5, 4]]}, "legend": {"title": null, "legendX": 36, "legendY": 26, "rowPadding": 17.5}}
          }
        },
        {
          "title": "d.) Different g/d models",
          "width": 394, "height": 387,
          "data": {"name": "d"},
          "mark": {"type": "line"},
          "encoding": {
            "x": {"field": "x", "type": "quantitative", "title": "Wavelength [μm]", "scale": {"domain": [14.85, 15.02], "nice": false, "zero": false}, "axis": {"values": [14.85, 14.9, 14.95, 15.0], "format": ".2f"}},
            "y": {"field": "y", "type": "quantitative", "title": "Normalized Flux", "scale": {"domain": [-0.1, 1.2], "nice": false, "zero": false}, "axis": {"values": [0, 0.2, 0.4, 0.6, 0.8, 1.0, 1.2], "format": ".1f"}},
            "color": {"field": "s", "type": "nominal", "scale": {"domain": ["g/d = 100", "g/d_dust = 1000", "g/d_dust = 10000"], "range": ["#2ca02c", "#ff7f0e", "#1f77b4"]}, "legend": {"title": null, "legendX": 36, "legendY": 21, "rowPadding": 14}},
            "strokeDash": {"field": "s", "type": "nominal", "scale": {"domain": ["g/d = 100", "g/d_dust = 1000", "g/d_dust = 10000"], "range": [[1, 0], [9, 4], [2.5, 4]]}, "legend": {"title": null, "legendX": 36, "legendY": 21, "rowPadding": 14}}
          }
        }
      ]
    }
  ]
}
